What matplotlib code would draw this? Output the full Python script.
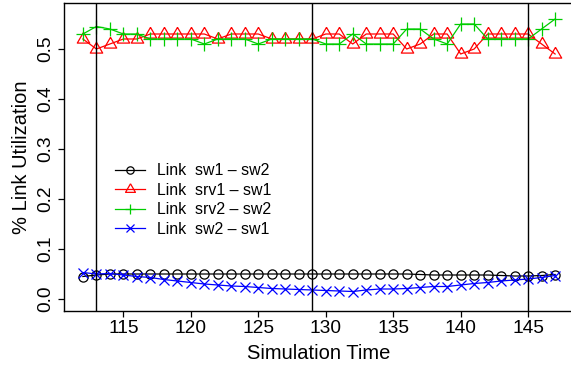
import matplotlib
matplotlib.use("Agg")
import matplotlib.pyplot as plt
import numpy as np

plt.rcParams['font.family'] = ['Liberation Sans', 'DejaVu Sans']

time = list(range(112, 148))

sw1_sw2 = [0.045, 0.048, 0.050, 0.050, 0.050, 0.050, 0.050, 0.050, 0.050, 0.050,
           0.050, 0.050, 0.050, 0.050, 0.050, 0.050, 0.050, 0.050, 0.050, 0.050,
           0.050, 0.050, 0.050, 0.050, 0.050, 0.049, 0.048, 0.048, 0.048, 0.048,
           0.048, 0.047, 0.046, 0.046, 0.047, 0.049]

srv1_sw1 = [0.52, 0.50, 0.51, 0.52, 0.52, 0.53, 0.53, 0.53, 0.53, 0.53,
            0.52, 0.53, 0.53, 0.53, 0.52, 0.52, 0.52, 0.52, 0.53, 0.53,
            0.51, 0.53, 0.53, 0.53, 0.50, 0.51, 0.53, 0.53, 0.49, 0.50,
            0.53, 0.53, 0.53, 0.53, 0.51, 0.49]

srv2_sw2 = [0.53, 0.545, 0.54, 0.53, 0.53, 0.52, 0.52, 0.52, 0.52, 0.51,
            0.52, 0.52, 0.52, 0.51, 0.52, 0.52, 0.52, 0.52, 0.51, 0.51,
            0.53, 0.51, 0.51, 0.51, 0.54, 0.54, 0.52, 0.51, 0.55, 0.55,
            0.52, 0.52, 0.52, 0.52, 0.54, 0.56]

sw2_sw1 = [0.053, 0.050, 0.051, 0.048, 0.045, 0.043, 0.039, 0.036, 0.033, 0.030,
           0.028, 0.026, 0.025, 0.023, 0.021, 0.020, 0.019, 0.018, 0.017, 0.016,
           0.015, 0.018, 0.020, 0.020, 0.021, 0.023, 0.025, 0.025, 0.028, 0.031,
           0.033, 0.036, 0.038, 0.040, 0.043, 0.047]

labels = ["Link  sw1 \u2013 sw2", "Link  srv1 \u2013 sw1",
          "Link  srv2 \u2013 sw2", "Link  sw2 \u2013 sw1"]
vlines = [113, 129, 145]
xticks = [115, 120, 125, 130, 135, 140, 145]
yticks = [0.0, 0.1, 0.2, 0.3, 0.4, 0.5]

W, H = 571, 369
fig = plt.figure(figsize=(W / 100, H / 100), dpi=100)
ax = fig.add_axes([64 / W, 58 / H, (574 - 64) / W, 308 / H])

tri = [(0, 1.555), (1.347, -0.778), (-1.347, -0.778), (0, 1.555)]

lw = 0.9
ax.plot(time, sw1_sw2, color='black', lw=lw, marker='o', ms=6.6,
        mfc='none', mec='black', mew=lw, label=labels[0])
ax.plot(time, srv1_sw1, color='#FF0000', lw=lw, marker=tri, ms=10.3,
        mfc='none', mec='#FF0000', mew=lw, label=labels[1])
ax.plot(time, srv2_sw2, color='#00CD00', lw=lw, marker='+', ms=9.4,
        mec='#00CD00', mew=lw, label=labels[2])
ax.plot(time, sw2_sw1, color='#0000FF', lw=lw, marker='x', ms=6.6,
        mec='#0000FF', mew=lw, label=labels[3])

for v in vlines:
    ax.axvline(v, color='black', lw=1.0)

ax.set_xlim(110.6, 148.4)
ax.set_ylim(-0.024, 0.592)
ax.set_xticks(xticks)
ax.set_xticklabels([str(t) for t in xticks])
ax.set_yticks(yticks)
ax.set_yticklabels([f"{t:.1f}" for t in yticks], rotation=90, va='center')

for s in ax.spines.values():
    s.set_linewidth(1.0)
ax.tick_params(direction='out', length=4.3, width=0.9, labelsize=13.8,
               color='black')
ax.tick_params(axis='x', pad=2)
ax.tick_params(axis='y', pad=3)

ax.set_xlabel("Simulation Time", fontsize=14.5, labelpad=5.5)
ax.set_ylabel("% Link Utilization", fontsize=14.5, labelpad=4)

leg = ax.legend(loc='upper left', bbox_to_anchor=((109 - 64) / 510, 0.5),
                frameon=False, fontsize=11.4, handlelength=1.85,
                handletextpad=0.8, labelspacing=0.28, borderaxespad=0,
                markerscale=0.8)

fig.savefig("out.png", dpi=100)
